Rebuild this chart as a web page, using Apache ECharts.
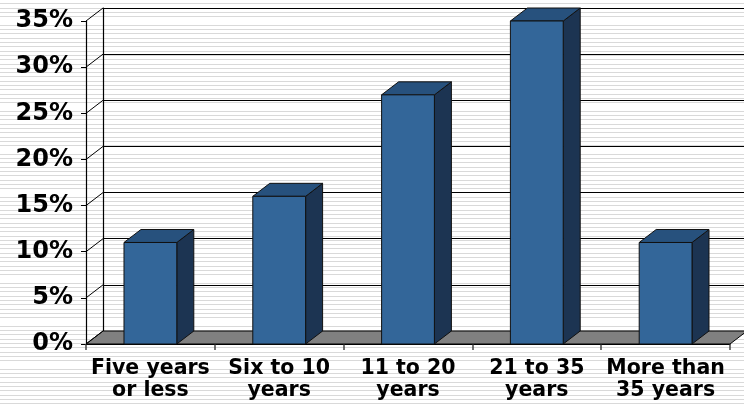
<!DOCTYPE html>
<html>
<head>
<meta charset="utf-8">
<script src="https://cdn.jsdelivr.net/npm/echarts@6/dist/echarts.min.js"></script>
<style>
html,body{margin:0;padding:0;}
body{background:repeating-linear-gradient(to bottom,#ffffff 0px,#ffffff 3.3px,#d9d9d9 3.3px,#d9d9d9 4.3px);}
#chart{width:744px;height:406px;}
</style>
</head>
<body>
<div id="chart"></div>
<script>
var categories = ['Five years\nor less', 'Six to 10\nyears', '11 to 20\nyears', '21 to 35\nyears', 'More than\n35 years'];
var values = [11, 16, 27, 35, 11];
var yTicks = [0, 5, 10, 15, 20, 25, 30, 35];

var DX = 17, DY = -13;
var FRONT = '#336699', TOP = '#27517d', SIDE = '#1c3452';
var FONT = 'DejaVu Sans';

var chart = echarts.init(document.getElementById('chart'), null, {renderer: 'canvas'});

function barItem(params, api) {
  var cat = api.value(0), v = api.value(1);
  var base = api.coord([cat, 0]);
  var top = api.coord([cat, v]);
  var cw = api.size([1, 0])[0];
  var bw = cw * 0.41;
  var x0 = base[0] - bw / 2, x1 = base[0] + bw / 2;
  var y0 = base[1], y1 = top[1];
  var st = {stroke: '#111', lineWidth: 1};
  return {type: 'group', children: [
    {type: 'polygon', shape: {points: [[x1, y1], [x1 + DX, y1 + DY], [x1 + DX, y0 + DY], [x1, y0]]}, style: Object.assign({fill: SIDE}, st)},
    {type: 'polygon', shape: {points: [[x0, y1], [x1, y1], [x1 + DX, y1 + DY], [x0 + DX, y1 + DY]]}, style: Object.assign({fill: TOP}, st)},
    {type: 'rect', shape: {x: x0, y: y1, width: bw, height: y0 - y1}, style: Object.assign({fill: FRONT}, st)}
  ]};
}

function floorItem(params, api) {
  var cw = api.size([1, 0])[0];
  var l = api.coord([0, 0]);
  var r = api.coord([categories.length - 1, 0]);
  var xl = l[0] - cw / 2, xr = r[0] + cw / 2, y = l[1];
  return {type: 'polygon', shape: {points: [[xl, y], [xr, y], [xr + DX, y + DY], [xl + DX, y + DY]]},
    style: {fill: '#808080', stroke: '#000', lineWidth: 1}};
}

function wallLineItem(params, api) {
  var cw = api.size([1, 0])[0];
  var p = api.coord([0, api.value(1)]);
  var x = p[0] - cw / 2;
  return {type: 'line', shape: {x1: x, y1: p[1], x2: x + DX, y2: p[1] + DY},
    style: {stroke: '#000', lineWidth: 1}};
}

var option = {
  animation: false,
  backgroundColor: 'transparent',
  grid: [
    {left: 86, top: 21, width: 644, height: 323},
    {left: 86 + DX, top: 21 + DY, width: 644, height: 323}
  ],
  xAxis: [
    {type: 'category', gridIndex: 0, data: categories,
      axisLine: {lineStyle: {color: '#000', width: 1}},
      axisTick: {show: true, length: 6, lineStyle: {color: '#444', width: 1.5}},
      axisLabel: {color: '#000', fontFamily: FONT, fontWeight: 'bold', fontSize: 20.5, lineHeight: 22, margin: 14, interval: 0}},
    {type: 'category', gridIndex: 1, data: categories, show: false}
  ],
  yAxis: [
    {type: 'value', gridIndex: 0, min: 0, max: 35, interval: 5,
      axisLine: {show: true, lineStyle: {color: '#000', width: 1.2}},
      axisTick: {show: true, length: 5, lineStyle: {color: '#000'}},
      splitLine: {show: false},
      axisLabel: {color: '#000', fontFamily: FONT, fontWeight: 'bold', fontSize: 24, margin: 13,
        padding: [3, 0, 0, 0],
        formatter: function (v) { return v + '%'; }}},
    {type: 'value', gridIndex: 1, min: 0, max: 35, interval: 5,
      axisLine: {show: true, lineStyle: {color: '#000', width: 1.2}},
      axisTick: {show: false}, axisLabel: {show: false},
      splitLine: {show: true, lineStyle: {color: '#000', width: 1.2}}}
  ],
  series: [
    {type: 'custom', xAxisIndex: 0, yAxisIndex: 0, z: 2, renderItem: floorItem, data: [[0, 0]], silent: true},
    {type: 'custom', xAxisIndex: 0, yAxisIndex: 0, z: 3, renderItem: wallLineItem,
      data: yTicks.map(function (t) { return [0, t]; }), silent: true},
    {type: 'custom', xAxisIndex: 0, yAxisIndex: 0, z: 4, renderItem: barItem,
      encode: {x: 0, y: 1},
      data: values.map(function (v, i) { return [i, v]; })}
  ]
};
chart.setOption(option);
</script>
</body>
</html>
